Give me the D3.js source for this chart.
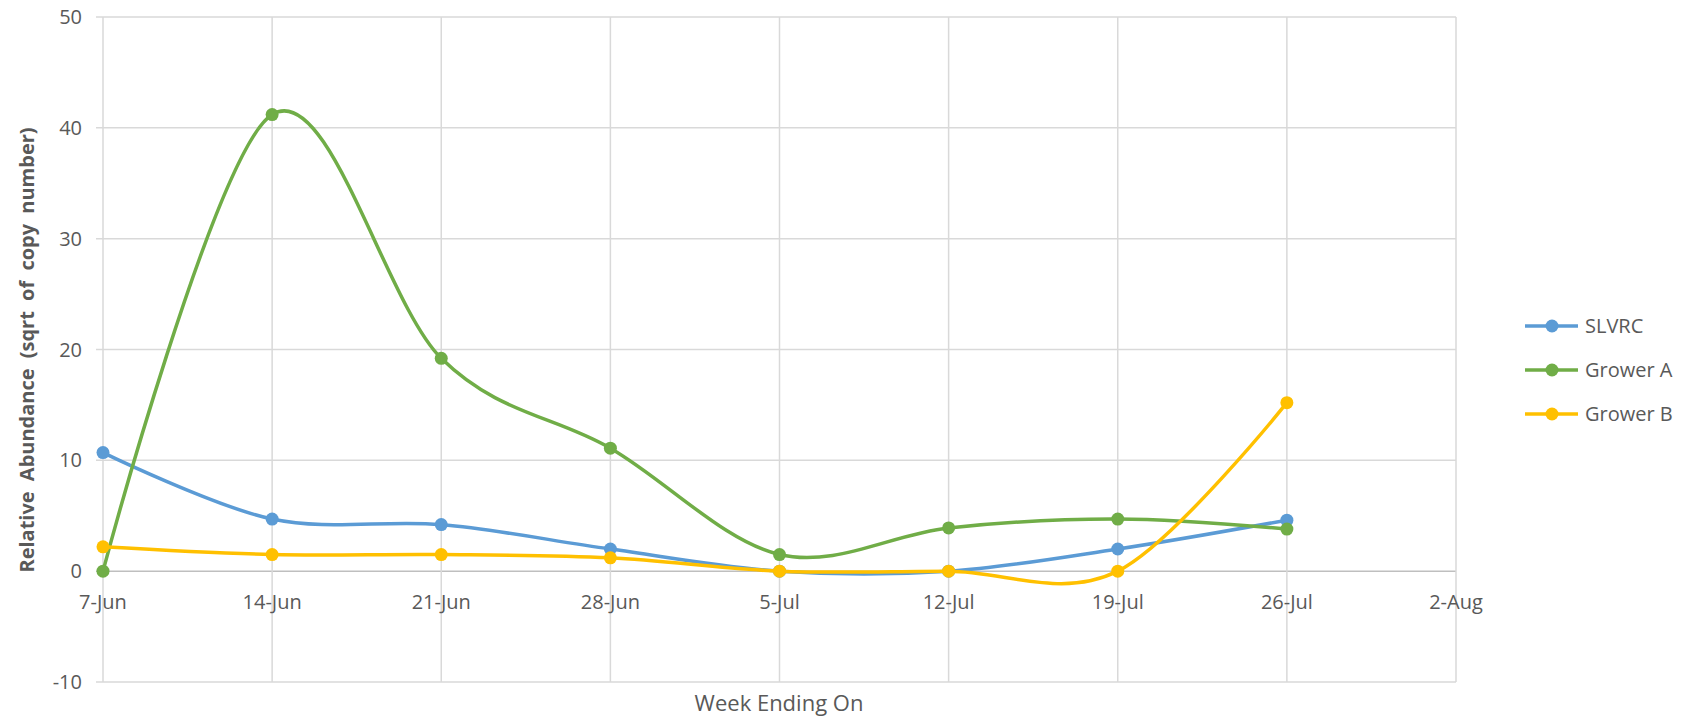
<!DOCTYPE html>
<html>
<head>
<meta charset="utf-8">
<script src="https://cdn.jsdelivr.net/npm/d3@7"></script>
<style>
  body { margin: 0; background: #fff; }
  svg text { font-family: "Open Sans", sans-serif; fill: #595959; }
</style>
</head>
<body>
<svg id="chart" width="1692" height="722"></svg>
<script>
// weeks (x axis), one value per week for each series
const weeks = ["2019-06-07", "2019-06-14", "2019-06-21", "2019-06-28", "2019-07-05", "2019-07-12", "2019-07-19", "2019-07-26"];
const slvrc = [10.7, 4.7, 4.2, 2.0, 0, 0, 2.0, 4.6];
const growerA = [0, 41.2, 19.2, 11.1, 1.5, 3.9, 4.7, 3.8];
const growerB = [2.2, 1.5, 1.5, 1.2, 0, 0, 0, 15.2];
const seriesNames = ["SLVRC", "Grower A", "Grower B"];
const seriesColors = ["#5B9BD5", "#70AD47", "#FFC000"];
const yTicks = [-10, 0, 10, 20, 30, 40, 50];

const parse = d3.timeParse("%Y-%m-%d");
const dates = weeks.map(parse);
const series = [slvrc, growerA, growerB].map((vals, i) => ({
  name: seriesNames[i],
  color: seriesColors[i],
  points: vals.map((v, j) => ({ date: dates[j], value: v }))
}));

const svg = d3.select("#chart");
const plot = { left: 103, right: 1456, top: 17, bottom: 682 };

const x = d3.scaleTime()
  .domain([parse("2019-06-07"), parse("2019-08-02")])
  .range([plot.left, plot.right]);
const y = d3.scaleLinear().domain([-10, 50]).range([plot.bottom, plot.top]);

const xTicks = d3.timeDay.range(parse("2019-06-07"), parse("2019-08-03"), 7);

// gridlines
svg.append("g").selectAll("line").data(yTicks).join("line")
  .attr("x1", plot.left - 7).attr("x2", plot.right)
  .attr("y1", d => y(d)).attr("y2", d => y(d))
  .attr("stroke", d => d === 0 ? "#BFBFBF" : "#D9D9D9")
  .attr("stroke-width", 1.5);
svg.append("g").selectAll("line").data(xTicks).join("line")
  .attr("x1", d => x(d)).attr("x2", d => x(d))
  .attr("y1", plot.top).attr("y2", plot.bottom)
  .attr("stroke", "#D9D9D9")
  .attr("stroke-width", 1.5);

// axis labels
svg.append("g").selectAll("text").data(yTicks).join("text")
  .attr("x", plot.left - 21).attr("y", d => y(d))
  .attr("dy", "0.35em")
  .attr("text-anchor", "end")
  .style("font-size", "20px")
  .text(d => String(d));

const fmt = d3.timeFormat("%-d-%b");
svg.append("g").selectAll("text").data(xTicks).join("text")
  .attr("x", d => x(d)).attr("y", y(0) + 31)
  .attr("dy", "0.35em")
  .attr("text-anchor", "middle")
  .style("font-size", "20px")
  .text(d => fmt(d));

svg.append("text")
  .attr("x", 779).attr("y", 711)
  .attr("text-anchor", "middle")
  .style("font-size", "22px")
  .text("Week Ending On");

svg.append("text")
  .attr("transform", "translate(34,350) rotate(-90)")
  .attr("text-anchor", "middle")
  .style("font-size", "20px")
  .style("font-weight", "bold")
  .attr("word-spacing", "5px")
  .text("Relative Abundance (sqrt of copy number)");

// lines
const line = d3.line()
  .x(d => x(d.date)).y(d => y(d.value))
  .curve(d3.curveCatmullRom.alpha(0));

const g = svg.append("g");
series.forEach(s => {
  g.append("path")
    .datum(s.points)
    .attr("d", line)
    .attr("fill", "none")
    .attr("stroke", s.color)
    .attr("stroke-width", 3.5)
    .attr("stroke-linecap", "round");
  g.selectAll(null).data(s.points).join("circle")
    .attr("cx", d => x(d.date)).attr("cy", d => y(d.value))
    .attr("r", 6.5)
    .attr("fill", s.color);
});

// legend
const legend = svg.append("g");
series.forEach((s, i) => {
  const ly = 326 + i * 44;
  legend.append("line")
    .attr("x1", 1525).attr("x2", 1578)
    .attr("y1", ly).attr("y2", ly)
    .attr("stroke", s.color).attr("stroke-width", 3.5);
  legend.append("circle")
    .attr("cx", 1552).attr("cy", ly).attr("r", 6.5).attr("fill", s.color);
  legend.append("text")
    .attr("x", 1585).attr("y", ly).attr("dy", "0.35em")
    .style("font-size", "20px")
    .text(s.name);
});
</script>
</body>
</html>
